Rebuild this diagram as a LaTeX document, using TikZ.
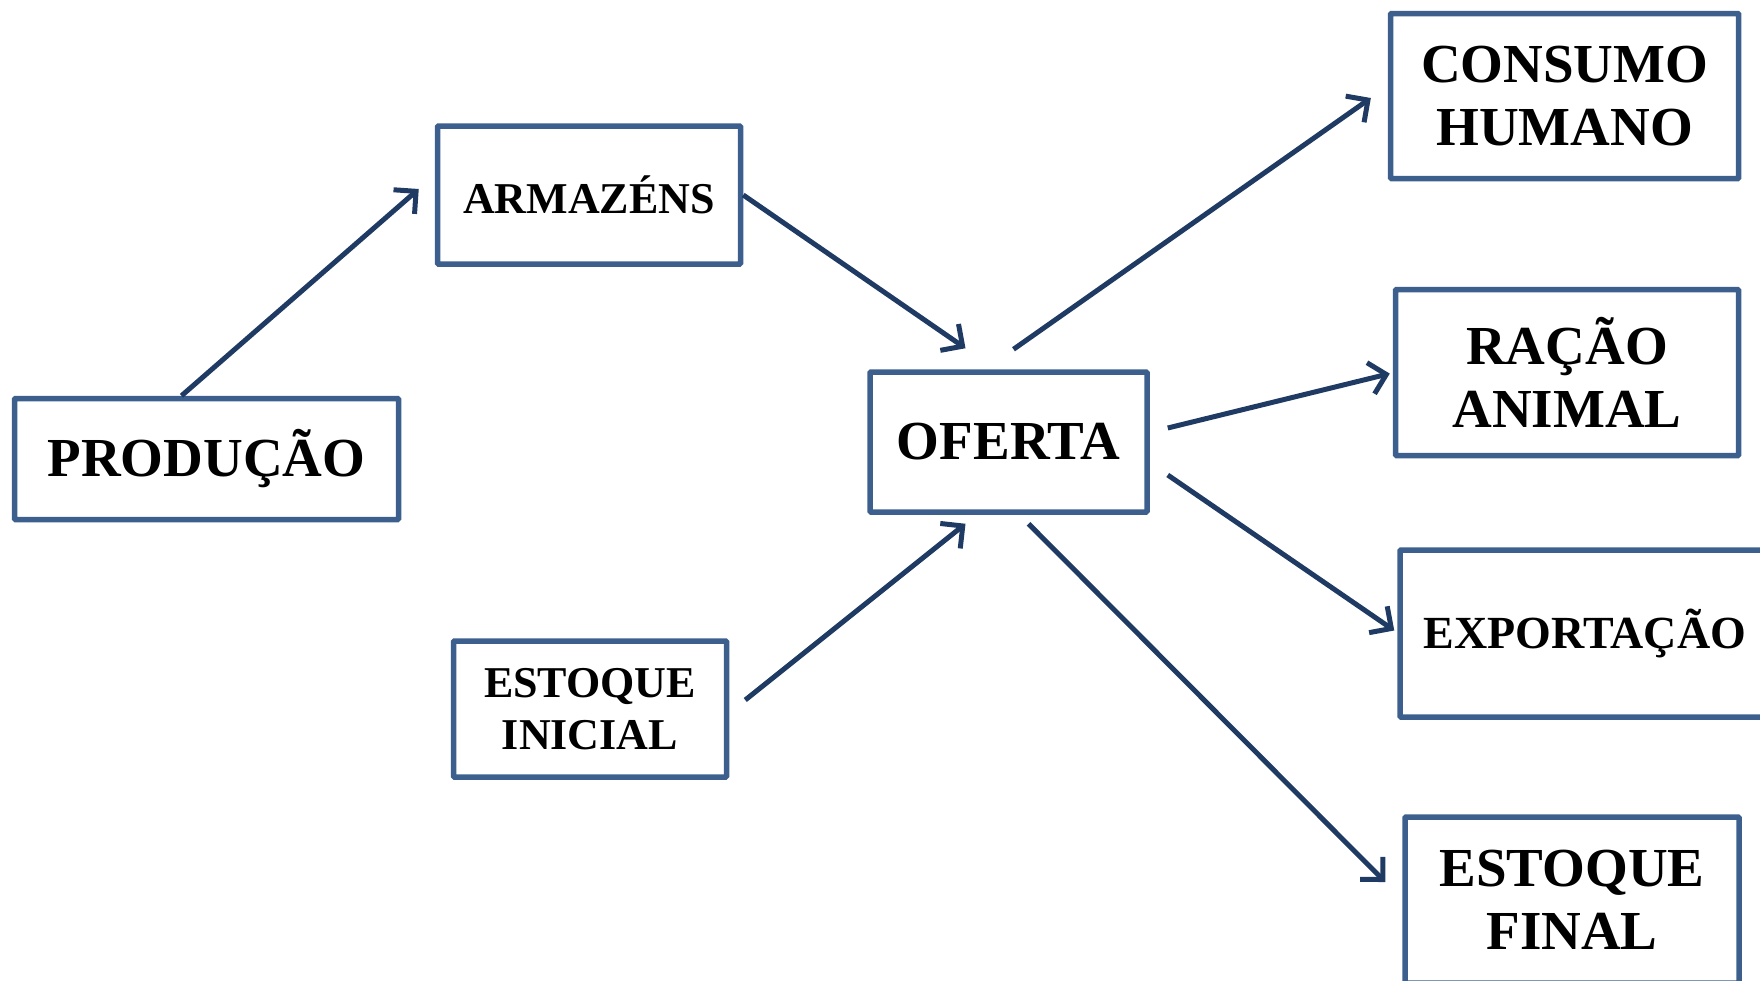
\documentclass[tikz,border=0pt]{standalone}
\usepackage{fontspec}
\setmainfont{Liberation Serif}
\usetikzlibrary{arrows.meta}

\definecolor{boxblue}{RGB}{60,95,141}
\definecolor{arrowblue}{RGB}{31,59,99}

\tikzset{
  box/.style={draw=boxblue, line width=5.5pt, rounded corners=1pt, align=center,
    inner sep=0pt, font=\bfseries\fontsize{55}{63}\selectfont},
  smallbox/.style={box, font=\bfseries\fontsize{44}{52}\selectfont},
  flow/.style={draw=arrowblue, line width=5pt,
    -{Straight Barb[length=16pt, width=32pt, line width=5pt]}}
}

\begin{document}
\begin{tikzpicture}[x=1pt, y=-1pt]
  \useasboundingbox (0,0) rectangle (1760,980);
  \clip (0,0) rectangle (1760,980);

  \node[box, minimum width=384pt, minimum height=121pt] (prod) at (206.5,459) {PRODUÇÃO};
  \node[smallbox, minimum width=303pt, minimum height=138pt] (arm) at (589,195) {ARMAZÉNS};
  \node[smallbox, minimum width=273pt, minimum height=136pt] (estini) at (590,709) {ESTOQUE\\INICIAL};
  \node[box, minimum width=277pt, minimum height=140pt] (oferta) at (1008.5,442) {OFERTA};
  \node[box, minimum width=348pt, minimum height=165pt] (consumo) at (1564.6,96) {CONSUMO\\HUMANO};
  \node[box, minimum width=343pt, minimum height=166pt] (racao) at (1567,372.6) {RAÇÃO\\ANIMAL};
  \node[smallbox, minimum width=370pt, minimum height=167pt,
    font=\bfseries\fontsize{46}{54}\selectfont] (export) at (1585,633.5) {EXPORTAÇÃO};
  \node[box, minimum width=334pt, minimum height=166pt] (estfin) at (1572,900) {ESTOQUE\\FINAL};

  % entradas
  \draw[flow] ([xshift=-25pt]prod.north) -- ([xshift=-16pt, yshift=6pt]arm.west);
  \draw[flow] (arm.east) -- ([xshift=-43pt, yshift=21pt]oferta.north);
  \draw[flow] ([xshift=16pt, yshift=9pt]estini.east) -- ([xshift=-43pt, yshift=-9pt]oferta.south);
  % saidas
  \draw[flow] ([xshift=5pt, yshift=20pt]oferta.north) -- ([xshift=-17pt, yshift=-2pt]consumo.west);
  \draw[flow] ([xshift=18pt, yshift=14pt]oferta.east) -- ([xshift=-3pt, yshift=-1pt]racao.west);
  \draw[flow] ([xshift=18pt, yshift=-33pt]oferta.east) -- ([xshift=-3pt, yshift=3pt]export.west);
  \draw[flow] ([xshift=20pt, yshift=-9pt]oferta.south) -- ([xshift=-17pt, yshift=18pt]estfin.west);
\end{tikzpicture}
\end{document}
